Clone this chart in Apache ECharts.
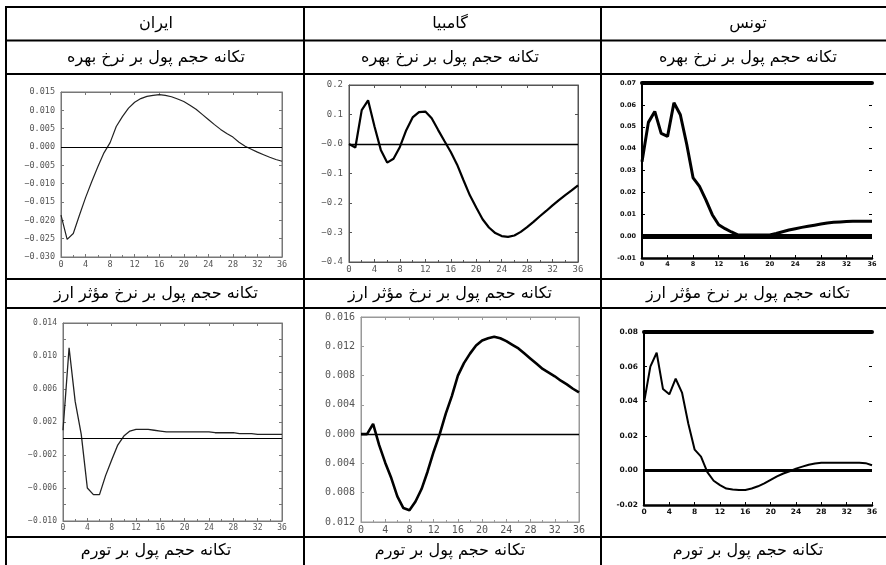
<!DOCTYPE html>
<html><head><meta charset="utf-8">
<script src="https://cdn.jsdelivr.net/npm/echarts@6/dist/echarts.min.js"></script>
<style>html,body{margin:0;padding:0;background:#fff}#c{width:886px;height:565px}</style>
</head><body><div id="c"></div>
<script>
// ---- data ----
const periods = [0,1,2,3,4,5,6,7,8,9,10,11,12,13,14,15,16,17,18,19,20,21,22,23,24,25,26,27,28,29,30,31,32,33,34,35,36];
const xTickLabels = [0,4,8,12,16,20,24,28,32,36];
const countries = ['ایران','گامبیا','تونس'];
const rowTitles = ['تكانه حجم پول بر نرخ بهره','تكانه حجم پول بر نرخ مؤثر ارز','تكانه حجم پول بر تورم'];

const iranRate = [-0.0186,-0.0252,-0.0236,-0.0186,-0.0138,-0.0095,-0.0054,-0.0016,0.0012,0.0056,0.0083,0.0106,0.0122,0.0132,0.0138,0.0141,0.0143,0.0141,0.0137,0.0131,0.0124,0.0114,0.0103,0.0089,0.0075,0.0061,0.0048,0.0037,0.0027,0.0013,0.0002,-0.0006,-0.0014,-0.0021,-0.0028,-0.0034,-0.0039];
const gambiaRate = [0.0,-0.012,0.115,0.148,0.06,-0.02,-0.063,-0.05,-0.01,0.047,0.09,0.108,0.11,0.087,0.048,0.01,-0.027,-0.07,-0.123,-0.174,-0.215,-0.255,-0.283,-0.302,-0.312,-0.315,-0.31,-0.298,-0.282,-0.264,-0.245,-0.227,-0.208,-0.19,-0.173,-0.157,-0.14];
const tunisiaRate = [0.034,0.052,0.057,0.047,0.0456,0.061,0.0555,0.042,0.0266,0.0227,0.0166,0.0098,0.0052,0.0034,0.0019,0.0006,0.0005,0.0005,0.0005,0.0005,0.0005,0.0012,0.002,0.0028,0.0034,0.004,0.0045,0.005,0.0055,0.006,0.0063,0.0065,0.0067,0.0068,0.0068,0.0068,0.0068];

const iranFx = [0.001,0.011,0.0045,0.0005,-0.006,-0.0068,-0.0068,-0.0045,-0.0026,-0.0008,0.0003,0.0009,0.0011,0.0011,0.0011,0.001,0.0009,0.0008,0.0008,0.0008,0.0008,0.0008,0.0008,0.0008,0.0008,0.0007,0.0007,0.0007,0.0007,0.0006,0.0006,0.0006,0.0005,0.0005,0.0005,0.0005,0.0005];
const gambiaFx = [0,0,0.0014,-0.0015,-0.0039,-0.006,-0.0085,-0.0101,-0.0104,-0.0092,-0.0075,-0.0051,-0.0024,0.0,0.0028,0.0052,0.008,0.0097,0.011,0.0121,0.0128,0.0131,0.0133,0.0131,0.0127,0.0122,0.0117,0.011,0.0103,0.0096,0.0089,0.0084,0.0079,0.0073,0.0068,0.0062,0.0057];
const tunisiaFx = [0.039,0.06,0.068,0.047,0.044,0.053,0.045,0.027,0.012,0.008,-0.001,-0.006,-0.0085,-0.0105,-0.011,-0.0113,-0.0113,-0.0105,-0.0092,-0.0075,-0.0055,-0.0035,-0.0018,-0.0005,0.001,0.0022,0.0033,0.004,0.0044,0.0044,0.0044,0.0044,0.0044,0.0044,0.0044,0.0042,0.003];

// ---- label formatters ----
const MINUS = '\u2212';
const fmtSigned = d => v => (v < -1e-12 ? MINUS : '') + Math.abs(v).toFixed(d);
const fmtGambiaTop = v => (Math.abs(v) < 1e-12 ? MINUS + '0.0' : fmtSigned(1)(v));
const fmtAbs = d => v => Math.abs(v).toFixed(d);
const fmtIranFx = v => { const k = Math.round((v + 0.010) / 0.002); return k % 2 === 0 ? fmtSigned(3)(v) : ''; };
const fmtHyphen = d => v => (v < -1e-12 ? '-' : '') + Math.abs(v).toFixed(d);

// ---- panel layout / styles ----
const monoFont = 'DejaVu Sans Mono';
const panels = [
  {values: iranRate, left:61, top:92, width:221, height:165, min:-0.03, max:0.015, interval:0.005, fmt:fmtSigned(3),
   style:'plain', frame:'#777', labelColor:'#555', font:monoFont, fs:8.5, lw:1.2, lineColor:'#222', zw:1.2},
  {values: gambiaRate, left:349, top:85, width:229, height:177, min:-0.4, max:0.2, interval:0.1, fmt:fmtGambiaTop,
   style:'plain', frame:'#555', labelColor:'#555', font:monoFont, fs:9, lw:2.2, lineColor:'#000', zw:1.3},
  {values: tunisiaRate, left:642, top:83, width:230, height:175, min:-0.01, max:0.07, interval:0.01, fmt:fmtHyphen(2),
   style:'bold', frame:'#000', labelColor:'#111', font:'DejaVu Sans', fs:6.5, lw:3, lineColor:'#000', zw:5},
  {values: iranFx, left:63, top:323, width:219, height:198, min:-0.010, max:0.014, interval:0.002, fmt:fmtIranFx,
   style:'plain', frame:'#777', labelColor:'#555', font:monoFont, fs:8, lw:1.3, lineColor:'#222', zw:1.2},
  {values: gambiaFx, left:361, top:317, width:218, height:205, min:-0.012, max:0.016, interval:0.004, fmt:fmtAbs(3),
   style:'plain', frame:'#999', labelColor:'#555', font:monoFont, fs:10, lw:2.6, lineColor:'#000', zw:1.3},
  {values: tunisiaFx, left:644, top:332, width:228, height:173, min:-0.02, max:0.08, interval:0.02, fmt:fmtHyphen(2),
   style:'bold', frame:'#000', labelColor:'#111', font:'DejaVu Sans', fs:7.5, lw:2, lineColor:'#000', zw:3}
];

const grids = [], xAxes = [], yAxes = [], series = [];
panels.forEach((p, i) => {
  const bold = p.style === 'bold';
  grids.push({left:p.left, top:p.top, width:p.width, height:p.height,
    show: !bold, borderColor:p.frame, borderWidth:1, backgroundColor:'transparent'});
  const tick = {show:true, inside:true, length:3, lineStyle:{color:p.frame, width:1}};
  const lbl = {color:p.labelColor, fontFamily:p.font, fontSize:p.fs, fontWeight: bold ? 'bold' : 'normal'};
  // bottom x
  xAxes.push({type:'value', gridIndex:i, min:0, max:36, interval:4, position:'bottom',
    axisLine:{show:true, onZero:false, lineStyle:{color:p.frame, width: bold ? 2.5 : 1}},
    axisTick:tick, minorTick:{show:!bold, splitNumber:2, length:2, lineStyle:{color:p.frame}},
    axisLabel:Object.assign({margin:3, formatter: v => xTickLabels.indexOf(v) >= 0 ? String(v) : ''}, lbl),
    splitLine:{show:false}});
  // top x
  xAxes.push({type:'value', gridIndex:i, min:0, max:36, interval:4, position:'top',
    axisLine:{show:true, onZero:false, lineStyle:{color:p.frame, width: bold ? 4 : 1}},
    axisTick:Object.assign({}, tick, {show:!bold}), axisLabel:{show:false}, splitLine:{show:false}});
  // left y
  yAxes.push({type:'value', gridIndex:i, min:p.min, max:p.max, interval:p.interval, position:'left',
    axisLine:{show:true, onZero:false, lineStyle:{color:p.frame, width: bold ? 2 : 1}},
    axisTick:tick, axisLabel:Object.assign({margin:6, formatter:p.fmt}, lbl), splitLine:{show:false}});
  // right y
  yAxes.push({type:'value', gridIndex:i, min:p.min, max:p.max, interval:p.interval, position:'right',
    axisLine:{show:!bold, onZero:false, lineStyle:{color:p.frame, width:1}},
    axisTick:tick, axisLabel:{show:false}, splitLine:{show:false}});
  series.push({type:'line', xAxisIndex:2*i, yAxisIndex:2*i, showSymbol:false, symbol:'none',
    smooth:false, animation:false,
    data: p.values.map((v, k) => [periods[k], v]),
    lineStyle:{color:p.lineColor, width:p.lw}, z:3,
    markLine:{silent:true, symbol:'none', animation:false, label:{show:false},
      lineStyle:{color:'#000', width:p.zw, type:'solid'}, data:[{yAxis:0}]}});
});

// ---- table frame & text ----
const hLines = [7, 40.5, 74, 279, 308, 537];
const vLines = [6, 304, 601];
const colCenters = [156, 450, 748];
const persianFont = '16px "DejaVu Sans"';
const graphic = [];
hLines.forEach(y => graphic.push({type:'line', shape:{x1:5, y1:y, x2:886, y2:y}, style:{stroke:'#000', lineWidth:2}, silent:true}));
vLines.forEach(x => graphic.push({type:'line', shape:{x1:x, y1:6, x2:x, y2:565}, style:{stroke:'#000', lineWidth:2}, silent:true}));
countries.forEach((t, i) => graphic.push({type:'text', x:colCenters[i], y:24,
  style:{text:t, font:persianFont, fill:'#000', textAlign:'center', textVerticalAlign:'middle'}}));
rowTitles.forEach((t, r) => {
  const yc = [57.5, 293.5, 551][r];
  colCenters.forEach(cx => graphic.push({type:'text', x:cx, y:yc,
    style:{text:t, font:persianFont, fill:'#000', textAlign:'center', textVerticalAlign:'middle'}}));
});

const chart = echarts.init(document.getElementById('c'), null, {renderer:'canvas'});
chart.setOption({animation:false, backgroundColor:'#fff', grid:grids, xAxis:xAxes, yAxis:yAxes, series:series, graphic:graphic});
</script></body></html>
